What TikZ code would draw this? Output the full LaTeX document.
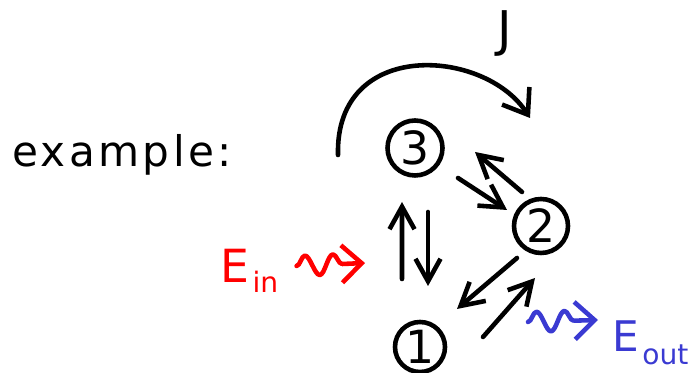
\documentclass[tikz,border=0pt]{standalone}
\usepackage{fontspec}
\setmainfont{DejaVu Sans}
\usetikzlibrary{arrows.meta, decorations.pathmorphing, calc}
\definecolor{InRed}{HTML}{FF0000}
\definecolor{OutBlue}{HTML}{3A3AD2}

\begin{document}
\begin{tikzpicture}[
    line width=2.6pt, line cap=round, line join=round,
    state/.style={draw, circle, minimum size=1.1cm, inner sep=0pt,
                  font=\fontsize{26}{26}\selectfont},
    flow/.style={-{Straight Barb[length=4.5mm, width=5mm]}},
    jflow/.style={-{Straight Barb[length=4.5mm, width=6.5mm]}},
    wiggle/.style={-{Straight Barb[length=4mm, width=7.5mm]}, decorate,
                   decoration={snake, amplitude=2mm, segment length=5.6mm,
                               post length=3.5mm}},
    hand/.style={inner sep=0pt, anchor=base west},
  ]
  \useasboundingbox (0,0) rectangle (13.8,7.46);
  % ---- title ----
  \node[hand, font=\fontsize{24}{24}\selectfont\addfontfeature{LetterSpace=8}]
    (title) at (0.2,4.12) {example:};
  % ---- states ----
  \node[state] (n3) at (8.30,4.50) {3};
  \node[state, minimum size=1.08cm] (n2) at (10.82,2.94) {2};
  \node[state, minimum size=1.0cm]  (n1) at (8.40,0.52) {1};
  % ---- transitions between states ----
  \draw[flow] ([shift={(0.26,-1.28)}]n3.center)  -- ([shift={(0.16,1.22)}]n1.center);
  \draw[flow] ([shift={(-0.36,1.36)}]n1.center)  -- ([shift={(-0.26,-1.08)}]n3.center);
  \draw[flow] ([shift={(0.86,-0.60)}]n3.center)  -- ([shift={(-0.68,0.32)}]n2.center);
  \draw[flow] ([shift={(-0.38,0.68)}]n2.center)  -- ([shift={(1.20,-0.08)}]n3.center);
  \draw[flow] ([shift={(-0.48,-0.64)}]n2.center) -- ([shift={(0.74,0.76)}]n1.center);
  \draw[flow] ([shift={(1.26,0.20)}]n1.center)   -- ([shift={(-0.12,-1.04)}]n2.center);
  % ---- J ----
  \coordinate (jstart) at (6.76,4.36);
  \coordinate (jend)   at (10.6,5.1);
  \draw[jflow] (jstart) .. controls (6.7,6.7) and (9.7,6.5) .. (jend);
  \node[font=\fontsize{28}{28}\selectfont, inner sep=0pt, anchor=base]
    (jlab) at (10.1,6.52) {J};
  % ---- energy in / out ----
  \node[hand, InRed, font=\fontsize{26}{26}\selectfont] (ein) at (4.36,1.80)
    {E\kern2pt\raisebox{-0.2cm}{\fontsize{16}{16}\selectfont in}};
  \coordinate (inend) at (7.30,2.20);
  \draw[wiggle, InRed] ($(ein.east |- inend)+(0.32,-0.06)$) -- (inend);
  \node[hand, OutBlue, font=\fontsize{24}{24}\selectfont] (eout) at (12.2,0.42)
    {E\kern2pt\raisebox{-0.26cm}{\fontsize{16}{16}\selectfont out}};
  \coordinate (outstart) at (10.56,1.02);
  \draw[wiggle, OutBlue] (outstart) -- ($(eout.west |- outstart)+(-0.24,0.04)$);
\end{tikzpicture}
\end{document}
